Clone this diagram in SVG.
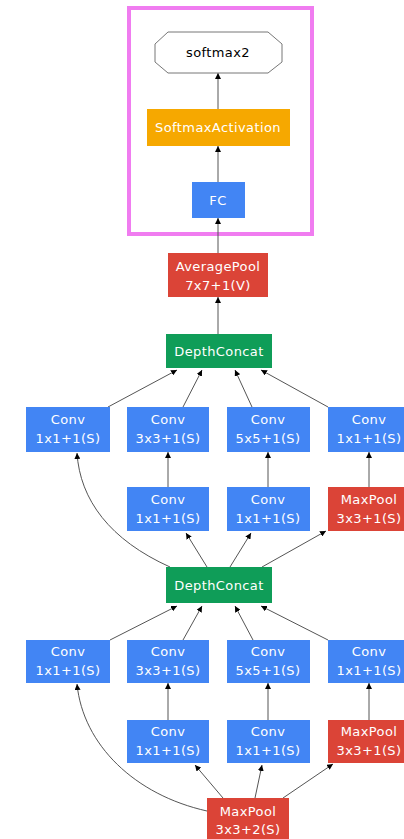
<svg xmlns="http://www.w3.org/2000/svg" width="404" height="839" viewBox="0 0 404 839">
<defs>
<marker id="ah" viewBox="0 0 10 10" refX="10" refY="5" markerWidth="6" markerHeight="6" markerUnits="userSpaceOnUse" orient="auto">
<path d="M0,0 L10,5 L0,10 z" fill="#000"/>
</marker>
<style>
.blue{fill:#4285f4}
.red{fill:#db4437}
.green{fill:#0f9d58}
.orange{fill:#f6a800}
text{font-family:"DejaVu Sans","Liberation Sans",sans-serif;font-size:13px;letter-spacing:0.4px;text-anchor:middle}
.w{fill:#fff}
.e{fill:none;stroke:#555;stroke-width:1;marker-end:url(#ah)}
</style>
</defs>
<rect width="404" height="839" fill="#fff"/>
<rect x="129" y="8" width="183" height="226" fill="none" stroke="#f07cf0" stroke-width="4"/>

<g id="connectors">
<path class="e" d="M218,334 L218,297"/>
<path class="e" d="M218,253 L218,218"/>
<path class="e" d="M218,182 L218,146"/>
<path class="e" d="M218,109 L218,73"/>
<path class="e" d="M108,407 L177,370"/>
<path class="e" d="M183,407 L202,370"/>
<path class="e" d="M252,407 L235,370"/>
<path class="e" d="M328,407 L261,370"/>
<path class="e" d="M168,487 L168,452"/>
<path class="e" d="M268,487 L268,452"/>
<path class="e" d="M369,487 L369,452"/>
<path class="e" d="M170,567 C110,540 80,500 77,453"/>
<path class="e" d="M207,567 L186,533"/>
<path class="e" d="M230,567 L251,533"/>
<path class="e" d="M262,567 L326,531"/>
<path class="e" d="M110,640 L177,606"/>
<path class="e" d="M183,640 L202,606"/>
<path class="e" d="M253,640 L235,606"/>
<path class="e" d="M328,640 L261,606"/>
<path class="e" d="M168,720 L168,683"/>
<path class="e" d="M268,720 L268,683"/>
<path class="e" d="M369,720 L369,683"/>
<path class="e" d="M207,811 C135,795 83,745 77,684"/>
<path class="e" d="M223,798 L195,765"/>
<path class="e" d="M255,798 L262,765"/>
<path class="e" d="M283,798 L333,764"/>
</g>

<g id="softmax2">
<polygon points="168,32 268,32 282,44 282,62 268,73 168,73 155,62 155,44" fill="#fff" stroke="#777" stroke-width="1"/>
<text x="218" y="57" fill="#000">softmax2</text>
</g>
<g id="softmaxactivation">
<rect class="orange" x="147" y="109" width="143" height="37"/>
<text class="w" x="218" y="132">SoftmaxActivation</text>
</g>
<g id="fc">
<rect class="blue" x="192" y="182" width="53" height="36"/>
<text class="w" x="218" y="205">FC</text>
</g>
<g id="averagepool">
<rect class="red" x="168" y="253" width="100" height="44"/>
<text class="w" x="218" y="271">AveragePool</text>
<text class="w" x="218" y="290">7x7+1(V)</text>
</g>
<g id="depthconcat_top">
<rect class="green" x="166" y="334" width="106" height="34"/>
<text class="w" x="219" y="356">DepthConcat</text>
</g>

<g id="conv_a1">
<rect class="blue" x="26" y="407" width="84" height="45"/>
<text class="w" x="68" y="424">Conv</text>
<text class="w" x="68" y="443">1x1+1(S)</text>
</g>
<g id="conv_b1">
<rect class="blue" x="127" y="407" width="82" height="45"/>
<text class="w" x="168" y="424">Conv</text>
<text class="w" x="168" y="443">3x3+1(S)</text>
</g>
<g id="conv_c1">
<rect class="blue" x="227" y="407" width="83" height="45"/>
<text class="w" x="268" y="424">Conv</text>
<text class="w" x="268" y="443">5x5+1(S)</text>
</g>
<g id="conv_d1">
<rect class="blue" x="328" y="407" width="83" height="45"/>
<text class="w" x="369" y="424">Conv</text>
<text class="w" x="369" y="443">1x1+1(S)</text>
</g>

<g id="conv_b2">
<rect class="blue" x="127" y="487" width="82" height="44"/>
<text class="w" x="168" y="504">Conv</text>
<text class="w" x="168" y="523">1x1+1(S)</text>
</g>
<g id="conv_c2">
<rect class="blue" x="227" y="487" width="83" height="44"/>
<text class="w" x="268" y="504">Conv</text>
<text class="w" x="268" y="523">1x1+1(S)</text>
</g>
<g id="maxpool_d2">
<rect class="red" x="328" y="487" width="83" height="44"/>
<text class="w" x="369" y="504">MaxPool</text>
<text class="w" x="369" y="523">3x3+1(S)</text>
</g>

<g id="depthconcat_mid">
<rect class="green" x="166" y="567" width="106" height="36"/>
<text class="w" x="219" y="590">DepthConcat</text>
</g>

<g id="conv_a3">
<rect class="blue" x="26" y="640" width="84" height="43"/>
<text class="w" x="68" y="656">Conv</text>
<text class="w" x="68" y="675">1x1+1(S)</text>
</g>
<g id="conv_b3">
<rect class="blue" x="127" y="640" width="82" height="43"/>
<text class="w" x="168" y="656">Conv</text>
<text class="w" x="168" y="675">3x3+1(S)</text>
</g>
<g id="conv_c3">
<rect class="blue" x="227" y="640" width="83" height="43"/>
<text class="w" x="268" y="656">Conv</text>
<text class="w" x="268" y="675">5x5+1(S)</text>
</g>
<g id="conv_d3">
<rect class="blue" x="328" y="640" width="83" height="43"/>
<text class="w" x="369" y="656">Conv</text>
<text class="w" x="369" y="675">1x1+1(S)</text>
</g>

<g id="conv_b4">
<rect class="blue" x="127" y="720" width="82" height="43"/>
<text class="w" x="168" y="736">Conv</text>
<text class="w" x="168" y="755">1x1+1(S)</text>
</g>
<g id="conv_c4">
<rect class="blue" x="227" y="720" width="83" height="43"/>
<text class="w" x="268" y="736">Conv</text>
<text class="w" x="268" y="755">1x1+1(S)</text>
</g>
<g id="maxpool_d4">
<rect class="red" x="328" y="720" width="83" height="43"/>
<text class="w" x="369" y="736">MaxPool</text>
<text class="w" x="369" y="755">3x3+1(S)</text>
</g>

<g id="maxpool_bottom">
<rect class="red" x="207" y="798" width="82" height="44"/>
<text class="w" x="248" y="816">MaxPool</text>
<text class="w" x="248" y="834">3x3+2(S)</text>
</g>
</svg>
